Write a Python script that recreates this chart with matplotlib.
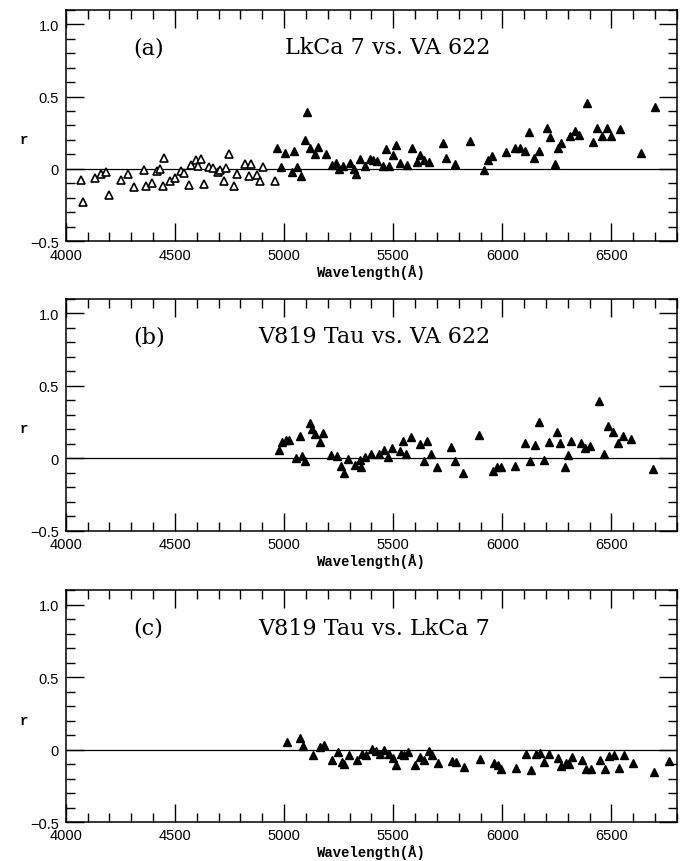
import numpy as np
import matplotlib.pyplot as plt
from matplotlib.ticker import MultipleLocator, FixedLocator

# panel (a): LkCa 7 vs. VA 622  (open symbols blueward of ~4960 A)
lam_a_open = [4070, 4081, 4136, 4160, 4184, 4200, 4254, 4285, 4314, 4357, 4368, 4394,
              4420, 4431, 4445, 4451, 4478, 4500, 4529, 4541, 4564, 4575, 4595, 4606,
              4618, 4635, 4658, 4676, 4697, 4709, 4723, 4736, 4750, 4770, 4786, 4822,
              4838, 4850, 4875, 4889, 4904, 4958]
r_a_open = [-0.076, -0.23, -0.064, -0.037, -0.021, -0.177, -0.076, -0.034, -0.126, -0.009,
            -0.12, -0.099, -0.016, 0.0, -0.115, 0.074, -0.08, -0.062, -0.014, -0.025,
            -0.11, 0.025, 0.06, 0.018, 0.069, -0.101, 0.011, 0.007, -0.018, -0.009,
            -0.083, 0.005, 0.103, -0.117, -0.034, 0.032, -0.05, 0.037, -0.039, -0.083,
            0.011, -0.083]
lam_a = [4970, 4988, 5005, 5036, 5048, 5059, 5076, 5094, 5105, 5121, 5142, 5154, 5194,
         5222, 5239, 5252, 5271, 5302, 5322, 5328, 5347, 5371, 5393, 5409, 5428, 5452,
         5466, 5483, 5497, 5514, 5529, 5564, 5586, 5607, 5624, 5639, 5665, 5728, 5744,
         5783, 5851, 5918, 5935, 5952, 6015, 6059, 6083, 6103, 6121, 6143, 6166, 6204,
         6219, 6239, 6255, 6269, 6311, 6331, 6352, 6389, 6413, 6435, 6458, 6479, 6500,
         6539, 6636, 6699]
r_a = [0.143, 0.011, 0.113, -0.023, 0.124, 0.016, -0.05, 0.202, 0.39, 0.145, 0.103,
       0.154, 0.103, 0.03, 0.044, 0.0, 0.018, 0.039, 0.002, -0.034, 0.069, 0.023, 0.069,
       0.06, 0.057, 0.018, 0.136, 0.023, 0.097, 0.168, 0.041, 0.028, 0.145, 0.046, 0.097,
       0.064, 0.048, 0.182, 0.076, 0.034, 0.193, -0.005, 0.06, 0.087, 0.117, 0.143, 0.143,
       0.122, 0.255, 0.078, 0.126, 0.285, 0.223, 0.034, 0.145, 0.179, 0.23, 0.262, 0.237,
       0.457, 0.189, 0.285, 0.225, 0.285, 0.225, 0.274, 0.108, 0.43]

# panel (b): V819 Tau vs. VA 622
lam_b = [4978, 4991, 5010, 5025, 5055, 5071, 5083, 5098, 5117, 5130, 5144, 5164, 5178,
         5217, 5243, 5262, 5275, 5294, 5327, 5346, 5352, 5372, 5398, 5436, 5456, 5478,
         5494, 5529, 5546, 5561, 5583, 5621, 5641, 5657, 5674, 5700, 5764, 5781, 5819,
         5891, 5958, 5975, 5992, 6056, 6104, 6128, 6148, 6166, 6189, 6212, 6250, 6265,
         6287, 6302, 6316, 6360, 6379, 6401, 6441, 6466, 6485, 6508, 6528, 6551, 6591,
         6689]
r_b = [0.055, 0.108, 0.126, 0.126, 0.0, 0.152, 0.016, -0.023, 0.241, 0.202, 0.168, 0.108,
       0.172, 0.021, 0.014, -0.053, -0.103, -0.007, -0.051, -0.016, -0.064, 0.005, 0.028,
       0.028, 0.053, 0.005, 0.071, 0.046, 0.117, 0.03, 0.143, 0.099, -0.023, 0.12, 0.03,
       -0.064, 0.074, -0.018, -0.106, 0.156, -0.087, -0.064, -0.064, -0.053, 0.106, -0.023,
       0.09, 0.251, -0.016, 0.113, 0.177, 0.106, -0.064, 0.018, 0.115, 0.106, 0.071, 0.08,
       0.391, 0.025, 0.223, 0.177, 0.106, 0.154, 0.131, -0.076]

# panel (c): V819 Tau vs. LkCa 7
lam_c = [5013, 5074, 5085, 5132, 5167, 5181, 5220, 5248, 5265, 5277, 5298, 5332, 5357,
         5376, 5401, 5422, 5440, 5460, 5483, 5499, 5514, 5534, 5550, 5567, 5601, 5624,
         5643, 5664, 5679, 5705, 5769, 5786, 5824, 5897, 5962, 5978, 5996, 6062, 6108,
         6131, 6152, 6171, 6193, 6216, 6256, 6270, 6291, 6307, 6320, 6365, 6381, 6406,
         6447, 6470, 6490, 6513, 6534, 6559, 6597, 6694, 6762]
r_c = [0.055, 0.08, 0.023, -0.041, 0.021, 0.032, -0.071, -0.018, -0.087, -0.097, -0.039,
       -0.074, -0.032, -0.039, 0.005, -0.011, -0.032, -0.005, -0.032, -0.057, -0.11, -0.032,
       -0.041, -0.016, -0.11, -0.048, -0.069, -0.007, -0.037, -0.094, -0.08, -0.087, -0.117,
       -0.064, -0.092, -0.106, -0.136, -0.129, -0.028, -0.138, -0.032, -0.021, -0.083,
       -0.032, -0.055, -0.115, -0.092, -0.101, -0.048, -0.069, -0.131, -0.131, -0.074,
       -0.131, -0.046, -0.039, -0.129, -0.039, -0.09, -0.152, -0.08]

panel_tags = ["(a)", "(b)", "(c)"]
titles = ["LkCa 7 vs. VA 622", "V819 Tau vs. VA 622", "V819 Tau vs. LkCa 7"]
xticks = [4000, 4500, 5000, 5500, 6000, 6500]
yticks = [-0.5, 0, 0.5, 1.0]
ytick_labels = ["\u22120.5", "0", "0.5", "1.0"]

fig = plt.figure(figsize=(6.83, 8.62), dpi=100)
bottoms = [0.7187, 0.3834, 0.0452]
axes = [fig.add_axes([0.0962, b, 0.895, 0.2691]) for b in bottoms]

sets = [(lam_a, r_a), (lam_b, r_b), (lam_c, r_c)]
for i, ax in enumerate(axes):
    ax.axhline(0, color="black", lw=0.9, zorder=1)
    if i == 0:
        ax.plot(lam_a_open, r_a_open, ls="none", marker="^", ms=5.2,
                mfc="white", mec="black", mew=1.2, zorder=3)
    lam, r = sets[i]
    ax.plot(lam, r, ls="none", marker="^", ms=5.2, color="black", zorder=3)

    ax.set_xlim(4000, 6800)
    ax.set_ylim(-0.5, 1.1)
    ax.xaxis.set_major_locator(FixedLocator(xticks))
    ax.xaxis.set_minor_locator(MultipleLocator(100))
    ax.yaxis.set_major_locator(FixedLocator(yticks))
    ax.yaxis.set_minor_locator(MultipleLocator(0.1))
    ax.set_yticklabels(ytick_labels)
    ax.tick_params(which="both", direction="in", top=True, right=True, width=1.0,
                   labelsize=10.5)
    ax.tick_params(axis="x", pad=4.5)
    ax.tick_params(axis="y", pad=5)
    ax.tick_params(which="major", length=13)
    ax.tick_params(which="minor", length=6.5)
    for lab in ax.get_xticklabels() + ax.get_yticklabels():
        lab.set_fontfamily("Liberation Sans")
    for s in ax.spines.values():
        s.set_linewidth(1.1)

    ax.text(0.5, -0.128, "Wavelength(\u00c5)", transform=ax.transAxes, ha="center",
            va="center", fontsize=10, family="Liberation Mono", fontweight="bold")
    ax.text(-0.068, 0.44, "r", transform=ax.transAxes, ha="center", va="center",
            fontsize=10, family="Liberation Mono", fontweight="bold")
    ax.text(0.11, 0.838, panel_tags[i], transform=ax.transAxes, ha="left",
            va="center", fontsize=16, family="DejaVu Serif")
    ax.text(0.694, 0.838, titles[i], transform=ax.transAxes, ha="right",
            va="center", fontsize=16, family="DejaVu Serif")

fig.savefig("out.png", dpi=100)
